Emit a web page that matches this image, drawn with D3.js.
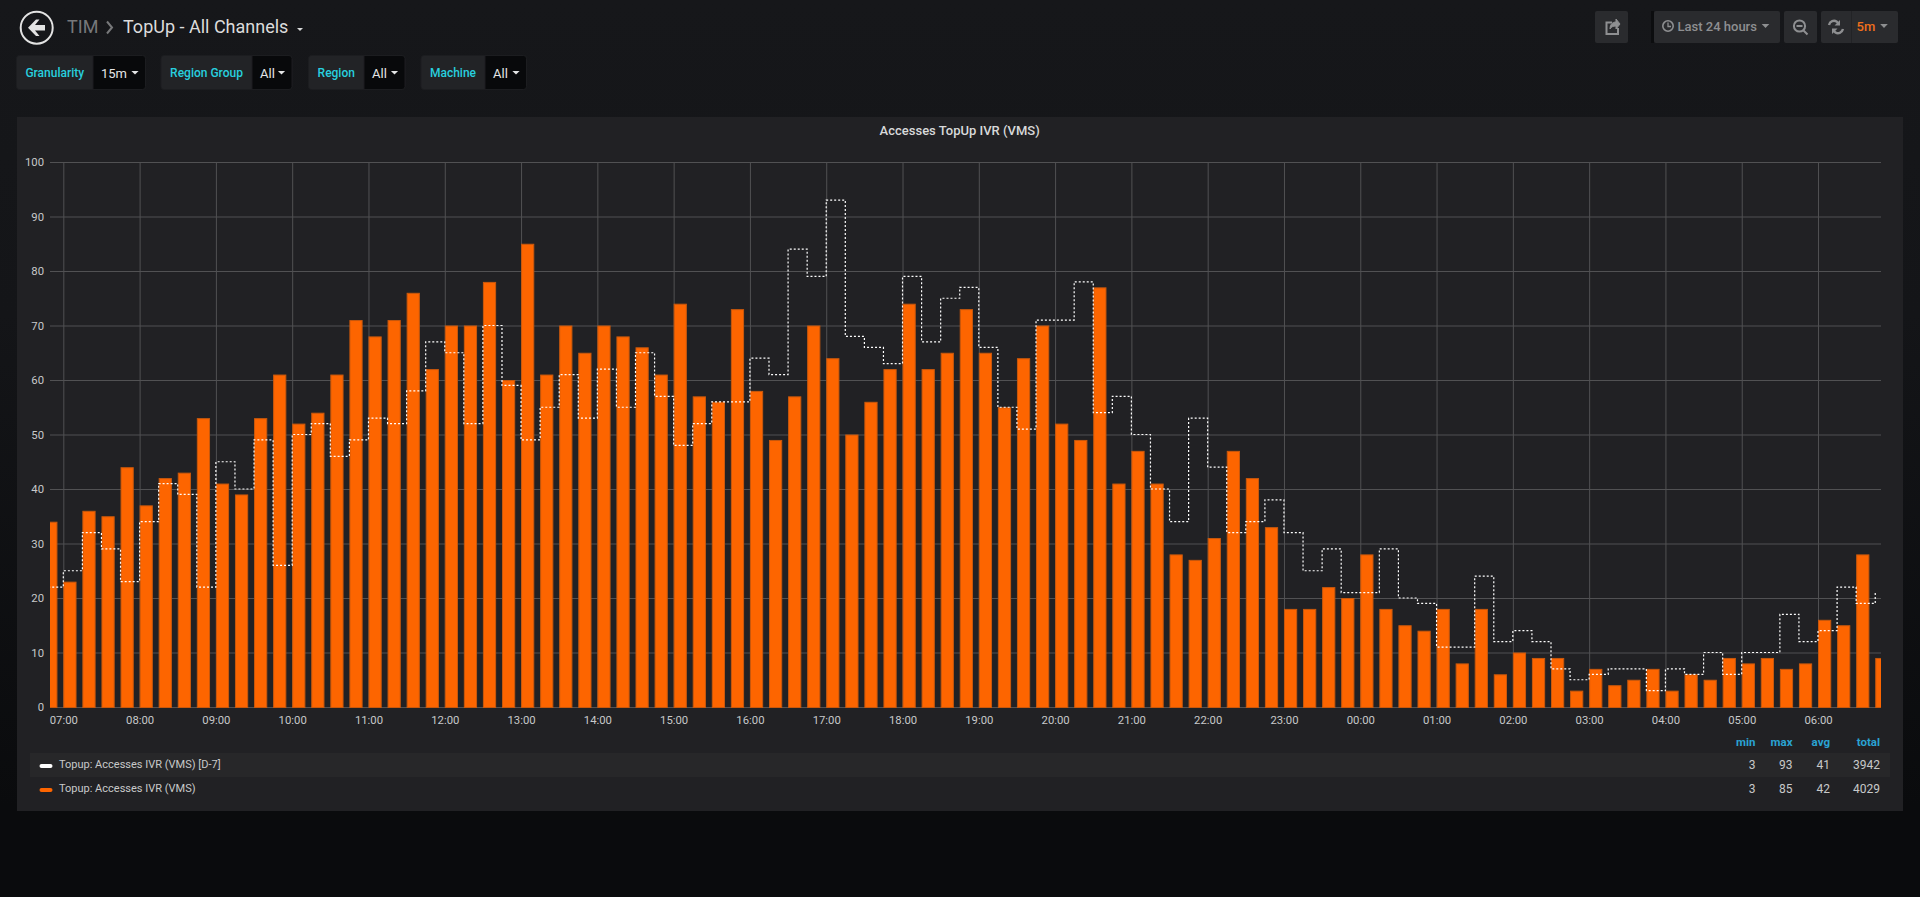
<!DOCTYPE html>
<html>
<head>
<meta charset="utf-8">
<title>TopUp - All Channels</title>
<script src="https://cdnjs.cloudflare.com/ajax/libs/d3/7.8.5/d3.min.js"></script>
<style>
  html, body { margin: 0; padding: 0; background: #0b0c0e; overflow: hidden; }
  svg { display: block; font-family: Roboto, sans-serif; }
  .tick text { font-family: Roboto, sans-serif; font-size: 11.3px; fill: #c8c9ca; }
  .tick line { stroke: #515153; stroke-width: 1; }
  .domain { display: none; }
</style>
</head>
<body>
<script>
// Accesses per 15 minutes, first bucket is 06:45
const accesses = [34,
  23, 36, 35, 44, 37, 42, 43, 53, 41, 39, 53, 61, 52, 54, 61, 71,
  68, 71, 76, 62, 70, 70, 78, 60, 85, 61, 70, 65, 70, 68, 66, 61,
  74, 57, 56, 73, 58, 49, 57, 70, 64, 50, 56, 62, 74, 62, 65, 73,
  65, 55, 64, 70, 52, 49, 77, 41, 47, 41, 28, 27, 31, 47, 42, 33,
  18, 18, 22, 20, 28, 18, 15, 14, 18, 8, 18, 6, 10, 9, 9, 3,
  7, 4, 5, 7, 3, 6, 5, 9, 8, 9, 7, 8, 16, 15, 28, 9];

// Same series one week earlier
const accessesD7 = [22,
  25, 32, 29, 23, 34, 41, 39, 22, 45, 40, 49, 26, 50, 52, 46, 49,
  53, 52, 58, 67, 65, 52, 70, 59, 49, 55, 61, 53, 62, 55, 65, 57,
  48, 52, 56, 56, 64, 61, 84, 79, 93, 68, 66, 63, 79, 67, 75, 77,
  66, 55, 51, 71, 71, 78, 54, 57, 50, 40, 34, 53, 44, 32, 34, 38,
  32, 25, 29, 21, 21, 29, 20, 19, 11, 11, 24, 12, 14, 12, 7, 5,
  6, 7, 7, 3, 7, 6, 10, 6, 10, 10, 17, 12, 14, 22, 19, 21];

const yTicks = [0, 10, 20, 30, 40, 50, 60, 70, 80, 90, 100];
const statNames = ["min", "max", "avg", "total"];
const statsD7 = [3, 93, 41, 3942];
const statsNow = [3, 85, 42, 4029];
const seriesNames = ["Topup: Accesses IVR (VMS) [D-7]", "Topup: Accesses IVR (VMS)"];
const variableNames = ["Granularity", "Region Group", "Region", "Machine"];
const variableValues = ["15m", "All", "All", "All"];

const width = 1920;
const height = 897;

const svg = d3.select("body")
    .append("svg")
    .attr("width", width)
    .attr("height", height);

// Page background fades to almost black
const defs = svg.append("defs");
const bgGrad = defs.append("linearGradient")
    .attr("id", "page-bg")
    .attr("x1", 0).attr("x2", 0).attr("y1", 0).attr("y2", 1);
bgGrad.append("stop").attr("offset", "0%").attr("stop-color", "#16171a");
bgGrad.append("stop").attr("offset", "35%").attr("stop-color", "#141518");
bgGrad.append("stop").attr("offset", "90%").attr("stop-color", "#0a0b0d");
svg.append("rect").attr("width", width).attr("height", height).attr("fill", "url(#page-bg)");

// ---- top bar ----
const caret = (parent, x, y, size, color) => parent.append("path")
    .attr("d", `M${x - size},${y - size / 2}L${x + size},${y - size / 2}L${x},${y + size / 2}Z`)
    .attr("fill", color);

svg.append("circle").attr("cx", 36.7).attr("cy", 27.7).attr("r", 16)
    .attr("fill", "none").attr("stroke", "#e3e3e3").attr("stroke-width", 2);
svg.append("path")
    .attr("d", "M28,27.7L36,19.5L39.5,19.5L35,25L45,25L45,30.5L35,30.5L39.5,36L36,36Z")
    .attr("fill", "#e3e3e3");
svg.append("text").attr("x", 67).attr("y", 33).text("TIM")
    .attr("font-size", 18).attr("fill", "#77787a");
svg.append("path").attr("d", "M107,21.5L112,27.5L107,33.5")
    .attr("fill", "none").attr("stroke", "#77787a").attr("stroke-width", 2);
svg.append("text").attr("x", 123).attr("y", 33).text("TopUp - All Channels")
    .attr("font-size", 18).attr("fill", "#dcdcdc");
caret(svg, 300, 29.5, 3, "#d8d9da");

// template variable boxes
const varBoxes = [[16.5, 93, 145.5], [161, 252, 292], [308.5, 364, 405], [421, 485, 526.5]];
variableNames.forEach((name, i) => {
    const [x0, xs, x1] = varBoxes[i];
    const g = svg.append("g");
    g.append("rect").attr("x", x0).attr("y", 55.5).attr("width", x1 - x0).attr("height", 34)
        .attr("rx", 3).attr("fill", "#222326").attr("stroke", "#1c1d20");
    g.append("path")
        .attr("d", `M${xs},55.5H${x1 - 3}Q${x1},55.5 ${x1},58.5V86.5Q${x1},89.5 ${x1 - 3},89.5H${xs}Z`)
        .attr("fill", "#08090b").attr("stroke", "#1c1d20");
    g.append("text").attr("x", (x0 + xs) / 2).attr("y", 77)
        .attr("text-anchor", "middle").attr("font-size", 12).attr("font-weight", 500)
        .attr("fill", "#28cfdf").text(name);
    g.append("text").attr("x", xs + 8).attr("y", 78)
        .attr("font-size", 13).attr("fill", "#e4e5e6").text(variableValues[i]);
    caret(g, x1 - 10.5, 72.8, 3.6, "#e4e5e6");
});

// buttons on the right
const btn = (x0, x1) => svg.append("rect").attr("x", x0).attr("y", 11).attr("width", x1 - x0).attr("height", 32)
    .attr("rx", 2).attr("fill", "#2a2b2e");
btn(1595, 1628);
btn(1654, 1780);
btn(1784, 1817);
btn(1821, 1898);
svg.append("rect").attr("x", 1851).attr("y", 11).attr("width", 1).attr("height", 32).attr("fill", "#222326");
svg.append("rect").attr("x", 1651).attr("y", 11).attr("width", 3).attr("height", 32).attr("fill", "#0c0d0f");

const iconColor = "#8e8f91";
svg.append("path")
    .attr("d", "M1618,28V34H1606.5V22.5H1612")
    .attr("fill", "none").attr("stroke", iconColor).attr("stroke-width", 2);
svg.append("path")
    .attr("d", "M1610,29C1610,24 1613,22 1616,22V19L1620,24L1616,29V26C1613,26 1611,27 1610,29Z")
    .attr("fill", iconColor).attr("stroke", iconColor);
svg.append("circle").attr("cx", 1668).attr("cy", 26).attr("r", 5.2)
    .attr("fill", "none").attr("stroke", iconColor).attr("stroke-width", 1.6);
svg.append("path").attr("d", "M1668,22.5V26.5H1671")
    .attr("fill", "none").attr("stroke", iconColor).attr("stroke-width", 1.3);
svg.append("text").attr("x", 1677.5).attr("y", 31).text("Last 24 hours")
    .attr("font-size", 13).attr("font-weight", 500).attr("fill", iconColor);
caret(svg, 1765.5, 26, 3.8, iconColor);
svg.append("circle").attr("cx", 1799.5).attr("cy", 26).attr("r", 5.6)
    .attr("fill", "none").attr("stroke", iconColor).attr("stroke-width", 2);
svg.append("path").attr("d", "M1796.5,26H1802.5M1803.5,30.5L1807.5,34.5")
    .attr("fill", "none").attr("stroke", iconColor).attr("stroke-width", 2);
svg.append("path")
    .attr("d", "M1829,25C1830,21 1834,20 1836.5,21.5L1838.5,23.5M1843,29C1842,33 1838,34 1835.5,32.5L1833.5,30.5")
    .attr("fill", "none").attr("stroke", iconColor).attr("stroke-width", 2.4);
svg.append("path").attr("d", "M1840,20V25.5H1834.5ZM1832,34V28.5H1837.5Z").attr("fill", iconColor);
svg.append("text").attr("x", 1856.5).attr("y", 31).text("5m")
    .attr("font-size", 13).attr("font-weight", 500).attr("fill", "#f0701c");
caret(svg, 1884, 26, 3.8, iconColor);

// ---- panel ----
svg.append("rect").attr("x", 17).attr("y", 117).attr("width", 1886).attr("height", 694)
    .attr("fill", "#212124");
svg.append("text").attr("x", 959.7).attr("y", 135).attr("text-anchor", "middle")
    .attr("font-size", 13).attr("font-weight", 500).attr("fill", "#d8d9da")
    .text("Accesses TopUp IVR (VMS)");

const plotLeft = 50, plotRight = 1881, plotTop = 162, plotBottom = 707;

const start = Date.UTC(2018, 0, 1, 6, 45);
const bucket = 15 * 60 * 1000;
const timeOf = i => new Date(start + i * bucket);

const x = d3.scaleUtc()
    .domain([new Date(Date.UTC(2018, 0, 1, 6, 49, 32)), new Date(Date.UTC(2018, 0, 2, 6, 49, 32))])
    .range([plotLeft, plotRight]);

const y = d3.scaleLinear()
    .domain([0, 100])
    .range([plotBottom, plotTop]);

// Gridlines come from the axis ticks
svg.append("g")
    .attr("transform", `translate(0,${plotBottom})`)
    .call(d3.axisBottom(x)
        .ticks(d3.utcHour.every(1))
        .tickFormat(d3.utcFormat("%H:%M"))
        .tickSize(plotTop - plotBottom)
        .tickSizeOuter(0))
    .call(g => g.selectAll("text").attr("y", 9).attr("dy", "0.71em"));

svg.append("g")
    .attr("transform", `translate(${plotLeft},0)`)
    .call(d3.axisLeft(y)
        .tickValues(yTicks)
        .tickSize(plotLeft - plotRight)
        .tickPadding(6)
        .tickSizeOuter(0));

defs.append("clipPath").attr("id", "plot-clip")
    .append("rect").attr("x", plotLeft).attr("y", plotTop - 2)
    .attr("width", plotRight - plotLeft).attr("height", plotBottom - plotTop + 4);

const plot = svg.append("g").attr("clip-path", "url(#plot-clip)");

// Bars are 10 minutes wide inside a 15 minute bucket
plot.selectAll("rect.bar")
    .data(accesses)
    .join("rect")
    .attr("class", "bar")
    .attr("x", (d, i) => x(timeOf(i)) + 0.5)
    .attr("y", d => y(d) + 0.5)
    .attr("width", (d, i) => x(new Date(+timeOf(i) + 10 * 60 * 1000)) - x(timeOf(i)) - 0.5)
    .attr("height", d => y(0) - y(d))
    .attr("fill", "#fd6500")
    .attr("stroke", "#c9580c")
    .attr("stroke-width", 1);

// D-7 as a dotted step line over the bars
const stepLine = d3.line()
    .x((d, i) => x(timeOf(i)))
    .y(d => y(d))
    .curve(d3.curveStepAfter);

plot.append("path")
    .datum(accessesD7)
    .attr("d", stepLine)
    .attr("fill", "none")
    .attr("stroke", "#ffffff")
    .attr("stroke-width", 1.2)
    .attr("stroke-dasharray", "2,2");

// ---- legend ----
svg.append("rect").attr("x", 30).attr("y", 753).attr("width", 1860).attr("height", 24)
    .attr("fill", "#272729");

const statRight = [1755.5, 1792.5, 1830, 1880];
svg.append("g").selectAll("text")
    .data(statNames)
    .join("text")
    .attr("x", (d, i) => statRight[i])
    .attr("y", 746)
    .attr("text-anchor", "end")
    .attr("font-size", 11.5)
    .attr("font-weight", 700)
    .attr("fill", "#2aa3d3")
    .text(d => d);

[statsD7, statsNow].forEach((stats, row) => {
    const cy = 764.5 + row * 24;
    svg.append("rect").attr("x", 39.5).attr("y", cy - 0.5).attr("width", 13).attr("height", 4)
        .attr("rx", 2).attr("fill", row === 0 ? "#ffffff" : "#fd6500");
    svg.append("text").attr("x", 59).attr("y", cy + 3.5)
        .attr("font-size", 11).attr("fill", "#c8c9ca").text(seriesNames[row]);
    svg.append("g").selectAll("text")
        .data(stats)
        .join("text")
        .attr("x", (d, i) => statRight[i])
        .attr("y", cy + 4)
        .attr("text-anchor", "end")
        .attr("font-size", 12)
        .attr("fill", "#c8c9ca")
        .text(d => d);
});
</script>
</body>
</html>
